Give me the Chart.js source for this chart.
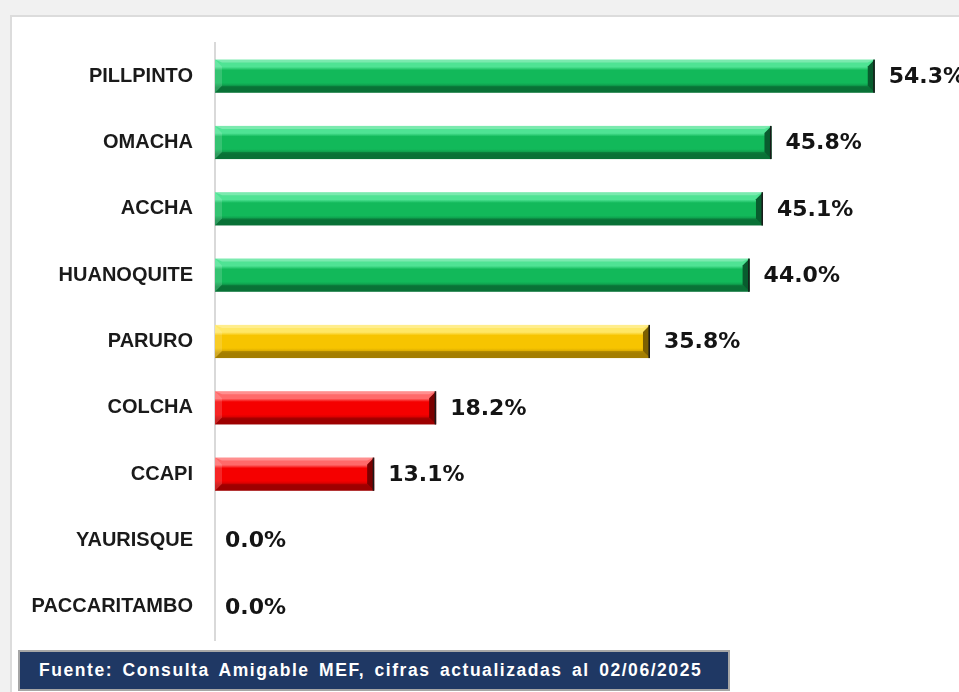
<!DOCTYPE html>
<html>
<head>
<meta charset="utf-8">
<script src="https://cdn.jsdelivr.net/npm/chart.js@4"></script>
<style>
  html, body { margin: 0; padding: 0; }
  body { width: 959px; height: 692px; overflow: hidden; position: relative; background: #f1f1f1; }
  #box { position: absolute; left: 10px; top: 15px; width: 980px; height: 700px; background: #fff; border: 2px solid #dcdcdc; box-sizing: border-box; }
  #wrap { position: absolute; left: 0; top: 0; width: 959px; height: 692px; }
  #source {
    position: absolute; left: 18px; top: 650px; width: 712px; height: 41px;
    box-sizing: border-box; background: #1f3864; border: 2px solid #a6a6a6;
    color: #fff; font: bold 17.5px "Liberation Sans", Arial, sans-serif;
    line-height: 37px; padding-left: 19px; letter-spacing: 1.55px; word-spacing: 3px; white-space: nowrap;
  }
</style>
</head>
<body>
<div id="box"></div>
<div id="wrap"><canvas id="chart" width="959" height="692"></canvas></div>
<div id="source">Fuente: Consulta Amigable MEF, cifras actualizadas al 02/06/2025</div>
<script>
// ===== DATA =====
const districts = ["PILLPINTO", "OMACHA", "ACCHA", "HUANOQUITE", "PARURO", "COLCHA", "CCAPI", "YAURISQUE", "PACCARITAMBO"]
const progress  = [54.3, 45.8, 45.1, 44.0, 35.8, 18.2, 13.1, 0.0, 0.0]

// green >= 40, yellow 30-40, red below
function tone(v) {
  if (v >= 40) return { top: "#4fe394", mid: "#12b95a", low: "#0b8a42", dark: "#085c2e" }
  if (v >= 30) return { top: "#ffe766", mid: "#f7c400", low: "#c99a00", dark: "#7d6000" }
  return { top: "#ff6a6a", mid: "#f50000", low: "#c00000", dark: "#7a0000" }
}

// ===== BEVEL BARS + LABELS =====
const bevelBars = {
  id: "bevelBars",
  afterDatasetsDraw(chart) {
    const ctx  = chart.ctx
    const meta = chart.getDatasetMeta(0)
    meta.data.forEach((bar, i) => {
      const v  = progress[i]
      const x0 = bar.base, x1 = bar.x
      const y0 = bar.y - bar.height / 2, y1 = bar.y + bar.height / 2
      if (x1 - x0 > 1) {
        const c = tone(v)
        const b = Math.min(7, (x1 - x0) / 2)
        const g = ctx.createLinearGradient(0, y0, 0, y1)
        g.addColorStop(0, c.top)
        g.addColorStop(0.22, c.top)
        g.addColorStop(0.32, c.mid)
        g.addColorStop(0.7, c.mid)
        g.addColorStop(0.85, c.low)
        g.addColorStop(1, c.low)
        ctx.save()
        ctx.fillStyle = g
        ctx.fillRect(x0, y0, x1 - x0, y1 - y0)
        // top edge
        ctx.fillStyle = "rgba(255,255,255,0.25)"
        ctx.beginPath()
        ctx.moveTo(x0, y0); ctx.lineTo(x1, y0); ctx.lineTo(x1 - b, y0 + 3); ctx.lineTo(x0 + b, y0 + 3)
        ctx.closePath(); ctx.fill()
        // bottom edge
        ctx.fillStyle = "rgba(0,0,0,0.18)"
        ctx.beginPath()
        ctx.moveTo(x0, y1); ctx.lineTo(x1, y1); ctx.lineTo(x1 - b, y1 - b); ctx.lineTo(x0 + b, y1 - b)
        ctx.closePath(); ctx.fill()
        // left chamfer
        ctx.fillStyle = "rgba(255,255,255,0.15)"
        ctx.beginPath()
        ctx.moveTo(x0, y0); ctx.lineTo(x0 + b, y0 + b); ctx.lineTo(x0 + b, y1 - b); ctx.lineTo(x0, y1)
        ctx.closePath(); ctx.fill()
        // right chamfer
        ctx.fillStyle = c.dark
        ctx.beginPath()
        ctx.moveTo(x1, y0); ctx.lineTo(x1 - b, y0 + b); ctx.lineTo(x1 - b, y1 - b); ctx.lineTo(x1, y1)
        ctx.closePath(); ctx.fill()
        ctx.fillStyle = "#1a1a1a"
        ctx.fillRect(x1 - 1.5, y0, 1.5, y1 - y0)
        ctx.restore()
      }
      ctx.save()
      ctx.font = "bold 22px 'DejaVu Sans'"
      ctx.fillStyle = "#141414"
      ctx.textBaseline = "middle"
      ctx.textAlign = "left"
      ctx.fillText(v.toFixed(1) + "%", x1 + (v > 0 ? 14 : 10), bar.y + 1)
      ctx.restore()
    })
  }
}

// ===== CHART =====
new Chart(document.getElementById("chart"), {
  type: "bar",
  data: {
    labels: districts,
    datasets: [{
      data: progress,
      backgroundColor: "rgba(0,0,0,0)",
      barPercentage: 1,
      categoryPercentage: 0.5
    }]
  },
  options: {
    indexAxis: "y",
    responsive: false,
    animation: false,
    layout: { padding: { top: 43, bottom: 52, right: 15, left: 0 } },
    plugins: { legend: { display: false }, tooltip: { enabled: false } },
    scales: {
      x: { display: false, min: 0, max: 60 },
      y: {
        afterFit(scale) { scale.width = 215 },
        grid: { display: false, drawTicks: false },
        border: { display: true, color: "#d9d9d9", width: 2 },
        ticks: {
          padding: 22,
          color: "#1a1a1a",
          font: { family: "'Liberation Sans', Arial", size: 20, weight: "bold" }
        }
      }
    }
  },
  plugins: [bevelBars]
})
</script>
</body>
</html>
